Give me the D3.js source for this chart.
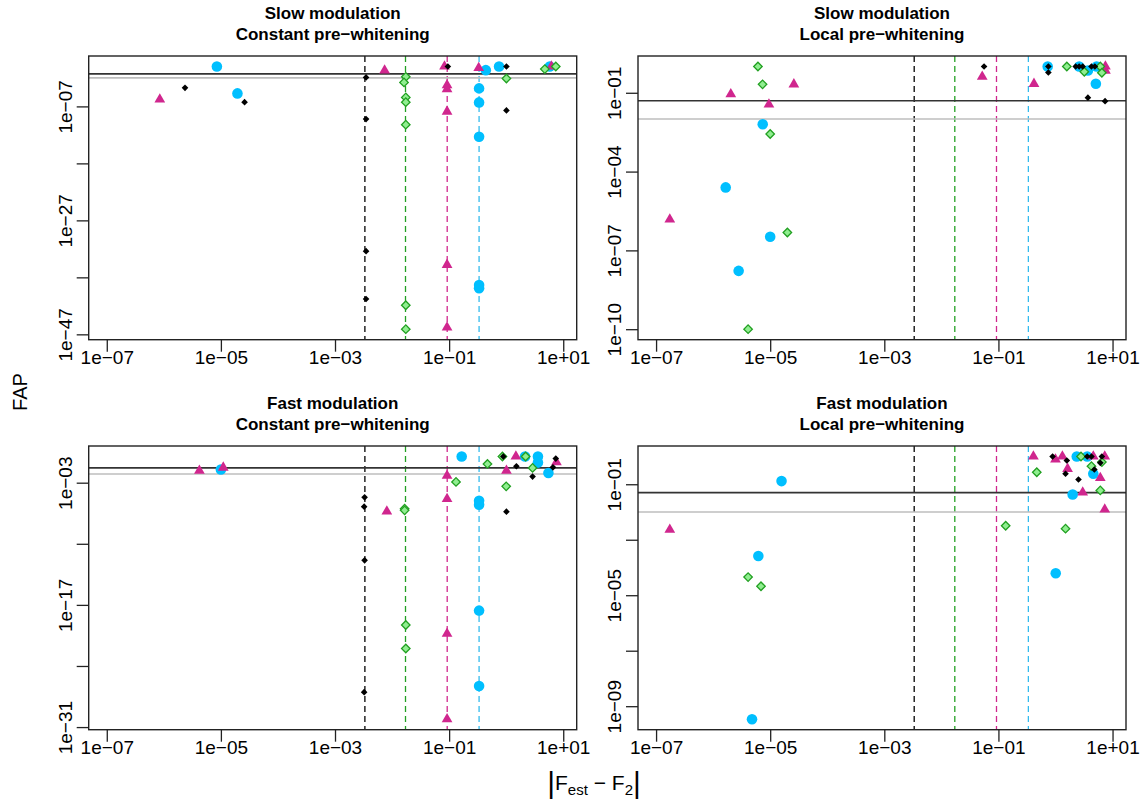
<!DOCTYPE html>
<html>
<head>
<meta charset="utf-8">
<script src="https://cdn.jsdelivr.net/npm/d3@7"></script>
<style>
  body { margin: 0; background: #fff; }
  svg text { font-family: "Liberation Sans", Arial, Helvetica, sans-serif; fill: #000; }
</style>
</head>
<body>
<svg id="chart" width="1148" height="805"></svg>
<script>
// FAP vs |F_est - F_2| — four panels (slow/fast modulation x constant/local pre-whitening).
// Each series is a list of [|F_est - F_2|, FAP] pairs.

// --- Slow modulation, constant pre-whitening
const SLOW_CONST_BLUE = [[8.5e-6, 1], [1.95e-5, 1.9e-5], [0.44, 0.23], [0.75, 1], [0.335, 1.45e-4],
  [0.335, 5e-7], [0.335, 4.7e-13], [0.335, 4.5e-39], [0.335, 1.2e-39], [5.8, 1]];
const SLOW_CONST_PINK = [[8.5e-7, 1.7e-6], [7.4e-3, 0.2], [0.083, 1], [0.092, 5.5e-4], [0.092, 1.1e-4],
  [0.092, 1.26e-8], [0.092, 1.6e-35], [0.092, 1.6e-46], [0.33, 0.56], [6.2, 1]];
const SLOW_CONST_GREEN = [[0.0174, 0.0155], [0.0162, 1.6e-3], [0.0174, 3.8e-6], [0.0174, 5.6e-7],
  [0.0174, 6.3e-11], [0.0174, 1.26e-42], [0.0174, 8e-47], [1.01, 7.9e-3], [4.75, 0.35], [7.4, 1]];
const SLOW_CONST_BLACK = [[2.35e-6, 1.8e-4], [2.6e-5, 5.6e-7], [3.5e-3, 0.0123], [3.5e-3, 5.9e-10],
  [3.5e-3, 4e-33], [3.5e-3, 1.6e-41], [0.095, 1], [1.01, 1], [1.01, 2e-8]];

// --- Slow modulation, local pre-whitening
const SLOW_LOCAL_BLUE = [[1.66e-6, 2.5e-5], [7.4e-6, 6.3e-3], [1e-5, 3.3e-7], [2.8e-6, 1.66e-8],
  [0.73, 1], [2.6, 1], [3.7, 0.7], [5.25, 1], [5.1, 0.22]];
const SLOW_LOCAL_PINK = [[1.74e-7, 1.5e-6], [2.04e-6, 0.089], [9.5e-6, 0.036], [2.6e-5, 0.21],
  [0.052, 0.41], [0.42, 0.22], [7.5, 1], [7.5, 0.7]];
const SLOW_LOCAL_GREEN = [[6.1e-6, 1], [7.35e-6, 0.21], [1e-5, 2.7e-3], [2e-5, 4.8e-7], [4.1e-6, 1e-10],
  [1.58, 1], [3.2, 0.63], [6.1, 1], [6.5, 0.58]];
const SLOW_LOCAL_BLACK = [[0.056, 1], [0.75, 1], [0.75, 0.59], [2.26, 1], [2.6, 1], [3.0, 1],
  [4.27, 1], [4.9, 1], [3.7, 0.065], [7.4, 0.048]];

// --- Fast modulation, constant pre-whitening
const FAST_CONST_BLUE = [[1e-5, 0.032], [0.166, 1], [0.335, 8.7e-6], [0.335, 3e-6], [0.335, 2.2e-18],
  [0.335, 5e-27], [2.14, 1], [3.6, 1], [3.6, 0.2], [5.5, 0.013]];
const FAST_CONST_PINK = [[4.2e-6, 0.024], [1.1e-5, 0.054], [8.1e-3, 5.1e-7], [0.092, 6.5e-3],
  [0.092, 1.4e-5], [0.092, 5e-21], [0.092, 8e-31], [1.48, 1], [1.01, 0.024], [7.6, 0.22]];
const FAST_CONST_GREEN = [[0.0166, 1.05e-6], [0.0166, 6.8e-7], [0.0174, 5e-20], [0.0174, 1e-22],
  [0.132, 1.23e-3], [0.47, 0.14], [0.86, 1], [2.19, 1], [2.9, 0.049], [1.0, 3.8e-4]];
const FAST_CONST_BLACK = [[3.3e-3, 2.1e-5], [3.24e-3, 1.8e-6], [3.3e-3, 1.26e-12], [3.24e-3, 1e-27],
  [0.89, 1], [1.51, 0.076], [2.9, 5e-3], [1.01, 4.8e-7], [6.6, 0.057], [7.4, 0.58]];

// --- Fast modulation, local pre-whitening
const FAST_LOCAL_BLUE = [[1.58e-5, 0.13], [6.2e-6, 2.6e-4], [4.8e-6, 3.4e-10], [1.01, 6.2e-5],
  [2.0, 0.043], [4.6, 0.24], [2.36, 1], [3.6, 1]];
const FAST_LOCAL_PINK = [[1.74e-7, 2.3e-3], [0.41, 1], [3.0, 0.051], [7.3, 0.0123], [6.1, 0.17],
  [1.63, 0.36], [1.0, 0.78], [1.32, 1], [7.3, 1], [4.6, 1]];
const FAST_LOCAL_GREEN = [[4.1e-6, 4.5e-5], [6.9e-6, 2.1e-5], [0.134, 3.2e-3], [0.47, 0.27],
  [1.5, 2.5e-3], [6.1, 0.06], [2.8, 1], [4.27, 0.45], [6.5, 0.63]];
const FAST_LOCAL_BLACK = [[2.53, 0.148], [1.5, 0.24], [1.58, 0.72], [0.89, 1], [3.6, 1], [4.27, 1],
  [6.5, 1], [4.8, 0.34], [6.1, 0.59]];

// Reference lines
const VLINE_VALUES = [3.34e-3, 0.0172, 0.0925, 0.335];   // black, green, pink, blue
const HLINE_VALUES = [0.05, 0.01];                       // black, grey
const X_LIMITS = [1e-7, 8.3];

// Axis ticks (labelled subset listed separately, as R drops overlapping labels)
const X_TICKS = [1e-7, 1e-5, 1e-3, 1e-1, 1e1];
const Y_TICKS_SLOW_CONST = [1e-7, 1e-17, 1e-27, 1e-37, 1e-47];
const Y_LABELS_SLOW_CONST = [1e-7, 1e-27, 1e-47];
const Y_TICKS_SLOW_LOCAL = [1e-1, 1e-4, 1e-7, 1e-10];
const Y_LABELS_SLOW_LOCAL = [1e-1, 1e-4, 1e-7, 1e-10];
const Y_TICKS_FAST_CONST = [1e-3, 1e-10, 1e-17, 1e-24, 1e-31];
const Y_LABELS_FAST_CONST = [1e-3, 1e-17, 1e-31];
const Y_TICKS_FAST_LOCAL = [1e-1, 1e-3, 1e-5, 1e-7, 1e-9];
const Y_LABELS_FAST_LOCAL = [1e-1, 1e-5, 1e-9];

const TITLES_SLOW_CONST = ["Slow modulation", "Constant pre\u2212whitening"];
const TITLES_SLOW_LOCAL = ["Slow modulation", "Local pre\u2212whitening"];
const TITLES_FAST_CONST = ["Fast modulation", "Constant pre\u2212whitening"];
const TITLES_FAST_LOCAL = ["Fast modulation", "Local pre\u2212whitening"];

// --- styling / layout
const COL = {
  blue: "#00bfff", pink: "#d0268e", green: "#22a022", greenFill: "#90ee90",
  black: "#000", grey: "#bebebe", frame: "#222"
};
const VLINE_COLORS = ["#000", "#22a022", "#d0268e", "#33bbee"];
const HLINE_COLORS = ["#333", COL.grey];

const panels = [
  { box: [88.7, 56, 576.7, 339.7], titles: TITLES_SLOW_CONST, yTicks: Y_TICKS_SLOW_CONST, yLabels: Y_LABELS_SLOW_CONST,
    blue: SLOW_CONST_BLUE, pink: SLOW_CONST_PINK, green: SLOW_CONST_GREEN, black: SLOW_CONST_BLACK },
  { box: [638, 56, 1126, 339.7], titles: TITLES_SLOW_LOCAL, yTicks: Y_TICKS_SLOW_LOCAL, yLabels: Y_LABELS_SLOW_LOCAL,
    blue: SLOW_LOCAL_BLUE, pink: SLOW_LOCAL_PINK, green: SLOW_LOCAL_GREEN, black: SLOW_LOCAL_BLACK },
  { box: [88.7, 446, 576.7, 729.7], titles: TITLES_FAST_CONST, yTicks: Y_TICKS_FAST_CONST, yLabels: Y_LABELS_FAST_CONST,
    blue: FAST_CONST_BLUE, pink: FAST_CONST_PINK, green: FAST_CONST_GREEN, black: FAST_CONST_BLACK },
  { box: [638, 446, 1126, 729.7], titles: TITLES_FAST_LOCAL, yTicks: Y_TICKS_FAST_LOCAL, yLabels: Y_LABELS_FAST_LOCAL,
    blue: FAST_LOCAL_BLUE, pink: FAST_LOCAL_PINK, green: FAST_LOCAL_GREEN, black: FAST_LOCAL_BLACK },
];

// R style tick label: 1e-07, 1e+01 (with a real minus sign)
function sci(v) {
  const e = Math.round(Math.log10(v));
  return "1e" + (e < 0 ? "\u2212" : "+") + String(Math.abs(e)).padStart(2, "0");
}

// R's default 4% axis extension, done in log space
function logPad(lo, hi) {
  const a = Math.log10(lo), b = Math.log10(hi), p = (b - a) * 0.04;
  return [Math.pow(10, a - p), Math.pow(10, b + p)];
}

const svg = d3.select("#chart");
const TICK_FONT = 19;

panels.forEach((p) => {
  const [x0, y0, x1, y1] = p.box;
  const all = [...p.blue, ...p.pink, ...p.green, ...p.black];
  const x = d3.scaleLog().domain(logPad(X_LIMITS[0], X_LIMITS[1])).range([x0, x1]);
  const y = d3.scaleLog().domain(logPad(d3.min(all, (d) => d[1]), d3.max(all, (d) => d[1]))).range([y1, y0]);

  const g = svg.append("g");
  const clipId = `clip${x0}${y0}`.replace(/\./g, "");
  g.append("clipPath").attr("id", clipId)
    .append("rect").attr("x", x0).attr("y", y0).attr("width", x1 - x0).attr("height", y1 - y0);
  const plot = g.append("g").attr("clip-path", `url(#${clipId})`);

  // dashed vertical lines
  VLINE_VALUES.forEach((v, i) => {
    plot.append("line").attr("x1", x(v)).attr("x2", x(v)).attr("y1", y0).attr("y2", y1)
      .attr("stroke", VLINE_COLORS[i]).attr("stroke-width", 1.3).attr("stroke-dasharray", "6,4");
  });
  // horizontal FAP thresholds
  HLINE_VALUES.forEach((v, i) => {
    plot.append("line").attr("x1", x0).attr("x2", x1).attr("y1", y(v)).attr("y2", y(v))
      .attr("stroke", HLINE_COLORS[i]).attr("stroke-width", 1.6);
  });

  // points: blue circles, pink triangles, green diamonds, black diamonds
  const circle = d3.symbol(d3.symbolCircle, 88);
  const tri = d3.symbol(d3.symbolTriangle, 50);
  const diaG = d3.symbol(d3.symbolSquare, 36);
  const diaB = d3.symbol(d3.symbolSquare, 22);

  plot.selectAll(null).data(p.blue).enter().append("path")
    .attr("d", circle).attr("fill", COL.blue)
    .attr("transform", (d) => `translate(${x(d[0])},${y(d[1])})`);
  plot.selectAll(null).data(p.pink).enter().append("path")
    .attr("d", tri).attr("fill", COL.pink)
    .attr("transform", (d) => `translate(${x(d[0])},${y(d[1])})`);
  plot.selectAll(null).data(p.green).enter().append("path")
    .attr("d", diaG).attr("fill", COL.greenFill).attr("stroke", COL.green).attr("stroke-width", 1.3)
    .attr("transform", (d) => `translate(${x(d[0])},${y(d[1])}) rotate(45)`);
  plot.selectAll(null).data(p.black).enter().append("path")
    .attr("d", diaB).attr("fill", COL.black)
    .attr("transform", (d) => `translate(${x(d[0])},${y(d[1])}) rotate(45)`);

  // frame
  g.append("rect").attr("x", x0).attr("y", y0).attr("width", x1 - x0).attr("height", y1 - y0)
    .attr("fill", "none").attr("stroke", COL.frame).attr("stroke-width", 1.4);

  // x axis
  const xa = g.append("g").attr("transform", `translate(0,${y1})`)
    .call(d3.axisBottom(x).tickValues(X_TICKS).tickFormat(sci).tickSize(12));
  xa.select(".domain").remove();
  xa.selectAll("line").attr("stroke", COL.frame).attr("stroke-width", 1.3);
  xa.selectAll("text").attr("y", 24).attr("dy", 0)
    .style("font-size", `${TICK_FONT}px`).style("font-family", "Liberation Sans, Arial, sans-serif");

  // y axis (labels rotated, like R's las = 0)
  const ya = g.append("g").attr("transform", `translate(${x0},0)`)
    .call(d3.axisLeft(y).tickValues(p.yTicks)
      .tickFormat((v) => (p.yLabels.includes(v) ? sci(v) : "")).tickSize(12));
  ya.select(".domain").remove();
  ya.selectAll("line").attr("stroke", COL.frame).attr("stroke-width", 1.3);
  ya.selectAll("text").attr("transform", "rotate(-90)").attr("x", 0).attr("y", -17).attr("dy", 0)
    .attr("text-anchor", "middle")
    .style("font-size", `${TICK_FONT}px`).style("font-family", "Liberation Sans, Arial, sans-serif");

  // two-line bold title
  const cx = (x0 + x1) / 2;
  p.titles.forEach((t, i) => {
    g.append("text").attr("x", cx).attr("y", y0 - 37 + i * 21).attr("text-anchor", "middle")
      .style("font-size", "17px").style("font-weight", "bold").text(t);
  });
});

// outer axis labels
svg.append("text").attr("transform", "translate(27,392) rotate(-90)").attr("text-anchor", "middle")
  .style("font-size", "20px").text("FAP");

const xl = svg.append("text").attr("x", 594).attr("y", 790).attr("text-anchor", "middle").style("font-size", "21px");
xl.append("tspan").style("font-size", "30px").attr("dy", 3).text("|");
xl.append("tspan").attr("dy", -3).text("F");
xl.append("tspan").attr("dy", 5).style("font-size", "15px").text("est");
xl.append("tspan").attr("dy", -5).text(" \u2212 F");
xl.append("tspan").attr("dy", 5).style("font-size", "15px").text("2");
xl.append("tspan").attr("dy", -2).style("font-size", "30px").text("|");
</script>
</body>
</html>
